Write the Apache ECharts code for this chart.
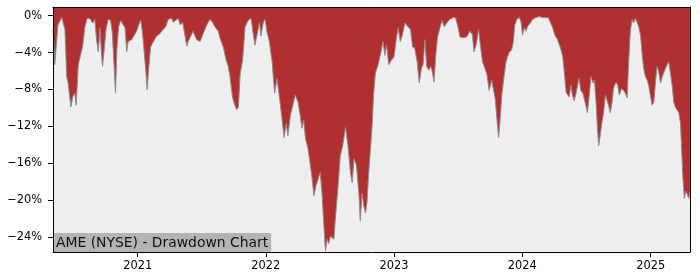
<!DOCTYPE html>
<html><head><meta charset="utf-8">
<script src="https://cdn.jsdelivr.net/npm/echarts@6/dist/echarts.min.js"></script>
<style>html,body{margin:0;padding:0;background:#fff}#c{width:700px;height:280px}</style>
</head><body><div id="c"></div>
<script>
const dates = [
'2020-05-05','2020-05-10','2020-05-19','2020-05-30','2020-06-08','2020-06-13','2020-06-17','2020-06-25','2020-06-30','2020-07-06',
'2020-07-10','2020-07-16','2020-07-21','2020-07-28','2020-08-04','2020-08-10','2020-08-18','2020-08-26','2020-09-01','2020-09-06',
'2020-09-11','2020-09-16','2020-09-20','2020-09-23','2020-09-28','2020-10-03','2020-10-09','2020-10-16','2020-10-21','2020-10-26',
'2020-10-30','2020-11-03','2020-11-08','2020-11-14','2020-11-21','2020-11-26','2020-12-01','2020-12-05','2020-12-10','2020-12-15',
'2020-12-24','2020-12-29','2021-01-06','2021-01-10','2021-01-15','2021-01-20','2021-01-25','2021-01-28','2021-02-02','2021-02-07',
'2021-02-12','2021-02-16','2021-02-24','2021-03-04','2021-03-10','2021-03-15','2021-03-22','2021-03-29','2021-04-03','2021-04-08',
'2021-04-12','2021-04-17','2021-04-27','2021-05-02','2021-05-09','2021-05-16','2021-05-21','2021-05-25','2021-06-04','2021-06-08',
'2021-06-18','2021-06-28','2021-07-07','2021-07-17','2021-07-26','2021-08-02','2021-08-09','2021-08-19','2021-08-24','2021-09-02',
'2021-09-10','2021-09-16','2021-09-21','2021-09-28','2021-10-03','2021-10-10','2021-10-15','2021-10-20','2021-10-27','2021-11-03',
'2021-11-12','2021-11-20','2021-11-26','2021-12-01','2021-12-08','2021-12-14','2021-12-18','2021-12-25','2021-12-30','2022-01-04',
'2022-01-11','2022-01-19','2022-01-26','2022-02-02','2022-02-09','2022-02-16','2022-02-22','2022-02-28','2022-03-05','2022-03-12',
'2022-03-19','2022-03-26','2022-04-03','2022-04-09','2022-04-14','2022-04-19','2022-04-24','2022-05-01','2022-05-08','2022-05-13',
'2022-05-18','2022-05-24','2022-05-30','2022-06-05','2022-06-10','2022-06-15','2022-06-20','2022-06-25','2022-06-29','2022-07-04',
'2022-07-09','2022-07-14','2022-07-18','2022-07-26','2022-08-01','2022-08-08','2022-08-16','2022-08-23','2022-08-30','2022-09-04',
'2022-09-09','2022-09-16','2022-09-23','2022-09-27','2022-10-02','2022-10-07','2022-10-12','2022-10-16','2022-10-21','2022-10-26',
'2022-10-31','2022-11-04','2022-11-09','2022-11-17','2022-11-25','2022-12-01','2022-12-06','2022-12-11','2022-12-17','2022-12-25',
'2023-01-01','2023-01-08','2023-01-13','2023-01-19','2023-01-25','2023-02-01','2023-02-06','2023-02-10','2023-02-17','2023-02-23',
'2023-03-01','2023-03-08','2023-03-14','2023-03-20','2023-03-25','2023-03-30','2023-04-04','2023-04-10','2023-04-16','2023-04-21',
'2023-04-25','2023-04-30','2023-05-05','2023-05-12','2023-05-18','2023-05-24','2023-05-31','2023-06-09','2023-06-19','2023-06-25',
'2023-07-01','2023-07-08','2023-07-17','2023-07-27','2023-08-05','2023-08-12','2023-08-17','2023-08-24','2023-08-30','2023-09-04',
'2023-09-10','2023-09-17','2023-09-23','2023-09-29','2023-10-06','2023-10-11','2023-10-16','2023-10-21','2023-10-26','2023-10-31',
'2023-11-04','2023-11-11','2023-11-16','2023-11-20','2023-11-25','2023-12-02','2023-12-07','2023-12-11','2023-12-17','2023-12-24',
'2023-12-29','2024-01-02','2024-01-07','2024-01-12','2024-01-16','2024-01-24','2024-01-31','2024-02-09','2024-02-19','2024-02-28',
'2024-03-09','2024-03-15','2024-03-21','2024-03-28','2024-04-03','2024-04-11','2024-04-19','2024-04-25','2024-04-30','2024-05-05',
'2024-05-09','2024-05-14','2024-05-19','2024-05-23','2024-05-28','2024-06-02','2024-06-07','2024-06-11','2024-06-16','2024-06-22',
'2024-06-29','2024-07-05','2024-07-11','2024-07-15','2024-07-21','2024-07-25','2024-07-30','2024-08-03','2024-08-06','2024-08-11',
'2024-08-15','2024-08-20','2024-08-25','2024-08-30','2024-09-03','2024-09-08','2024-09-13','2024-09-17','2024-09-24','2024-09-29',
'2024-10-04','2024-10-10','2024-10-16','2024-10-21','2024-10-26','2024-10-30','2024-11-04','2024-11-09','2024-11-13','2024-11-18',
'2024-11-23','2024-11-28','2024-12-03','2024-12-07','2024-12-12','2024-12-17','2024-12-22','2024-12-26','2024-12-31','2025-01-05',
'2025-01-10','2025-01-14','2025-01-19','2025-01-24','2025-01-29','2025-02-03','2025-02-07','2025-02-12','2025-02-17','2025-02-21',
'2025-02-26','2025-03-03','2025-03-08','2025-03-12','2025-03-17','2025-03-22','2025-03-27','2025-03-31','2025-04-03','2025-04-07',
'2025-04-11','2025-04-15','2025-04-19','2025-04-23'
];
const drawdown = [
-1.5,-5.3,-1.0,-0.2,-1.5,-6.6,-7.3,-9.9,-8.8,-8.4,
-9.7,-5.3,-4.5,-3.4,-1.2,-0.3,-0.3,-0.8,-0.4,-2.6,
-3.9,-1.3,-4.1,-5.5,-3.6,-1.5,-0.4,-0.5,-1.9,-5.5,
-8.4,-3.6,-1.2,-0.5,-1.0,-1.3,-3.9,-2.8,-3.0,-2.6,
-2.0,-1.7,-0.8,-0.5,-1.9,-4.1,-6.3,-8.0,-5.5,-3.4,
-3.0,-2.8,-2.2,-2.0,-1.7,-1.5,-1.2,-0.4,-0.5,-0.3,
-0.7,-0.5,-0.3,-1.0,-0.7,-2.2,-3.3,-2.8,-2.0,-1.7,
-2.6,-2.8,-1.9,-1.0,-0.4,-0.7,-1.2,-1.7,-2.5,-3.4,
-4.8,-5.5,-6.6,-8.8,-9.5,-10.2,-9.9,-6.3,-4.8,-1.2,
-0.5,-0.3,-1.9,-3.2,-1.9,-0.7,-2.2,-0.7,-0.4,-1.7,
-2.8,-5.0,-8.4,-6.8,-8.9,-11.1,-13.2,-11.7,-13.0,-10.8,
-9.7,-8.6,-9.4,-10.8,-12.2,-11.3,-13.3,-14.4,-16.2,-17.7,
-19.5,-18.4,-17.7,-17.0,-19.2,-22.5,-25.5,-24.2,-24.7,-23.9,
-23.7,-24.2,-22.0,-18.4,-15.2,-14.1,-12.1,-14.1,-17.0,-18.1,
-15.5,-16.2,-19.2,-22.2,-19.2,-20.6,-21.4,-20.3,-17.0,-14.5,
-11.8,-8.5,-6.2,-5.3,-3.9,-2.8,-4.3,-3.2,-5.3,-4.8,
-4.5,-2.4,-1.3,-2.8,-2.1,-0.8,-0.7,-1.2,-1.5,-3.4,
-3.5,-5.0,-7.3,-5.7,-5.3,-2.6,-5.5,-5.9,-5.5,-6.2,
-7.2,-4.3,-2.3,-1.3,-0.5,-1.2,-0.8,-0.4,-0.2,-0.2,
-1.0,-2.3,-2.4,-2.3,-1.7,-2.0,-3.9,-3.0,-1.5,-3.2,
-5.0,-5.7,-6.4,-8.1,-7.0,-7.0,-8.9,-11.1,-13.2,-10.8,
-8.6,-6.4,-5.0,-4.5,-4.0,-3.7,-2.8,-1.0,-0.4,-0.2,
-0.7,-2.1,-1.3,-1.7,-1.2,-0.8,-0.4,-0.2,-0.1,-0.2,
-0.2,-0.2,-0.7,-1.3,-2.1,-2.6,-3.5,-4.3,-6.1,-8.3,
-8.5,-8.8,-7.5,-8.6,-9.2,-8.5,-7.5,-6.8,-8.1,-8.4,
-9.5,-10.5,-8.3,-6.6,-7.3,-7.0,-9.7,-12.6,-14.1,-12.8,
-11.6,-10.5,-8.6,-8.4,-9.7,-10.5,-9.4,-7.9,-7.2,-7.5,
-8.6,-7.9,-8.1,-8.4,-8.9,-5.3,-1.7,-0.4,-0.8,-0.3,
-0.7,-1.2,-2.1,-3.9,-5.7,-6.6,-7.0,-7.5,-8.6,-9.7,
-9.4,-7.5,-5.5,-6.1,-7.3,-6.6,-6.2,-6.4,-5.3,-5.0,
-6.1,-7.5,-9.4,-9.9,-9.7,-10.5,-11.7,-15.2,-17.7,-19.8,
-19.0,-19.3,-19.8,-19.1
];
const yTicks = [0, -4, -8, -12, -16, -20, -24];
const xTicks = ['2021-01-01', '2022-01-01', '2023-01-01', '2024-01-01', '2025-01-01'];
const titleText = 'AME (NYSE) - Drawdown Chart';

const FONT = 'DejaVu Sans';
const chart = echarts.init(document.getElementById('c'), null, {renderer: 'canvas'});
const toTs = s => Date.UTC(+s.slice(0, 4), +s.slice(5, 7) - 1, +s.slice(8, 10));
const fmtPct = v => (v < 0 ? '\u2212' : '') + Math.abs(v) + '%';
const xMin = toTs(dates[0]), xMax = toTs(dates[dates.length - 1]);

chart.setOption({
  animation: false,
  backgroundColor: '#ffffff',
  title: {
    text: titleText,
    left: 53, bottom: 28,
    padding: [2, 3, 1, 3],
    backgroundColor: '#b4b4b4',
    textStyle: {fontFamily: FONT, fontSize: 13.9, fontWeight: 'normal', color: '#111', lineHeight: 16}
  },
  grid: {left: 53, right: 10, top: 7, bottom: 28, show: true, backgroundColor: '#eeeeee', borderWidth: 0},
  xAxis: [{
    type: 'value', min: xMin, max: xMax, z: 10,
    axisLine: {show: true, onZero: false, lineStyle: {color: '#000', width: 1}},
    axisTick: {show: true, length: 5, lineStyle: {color: '#000'}, customValues: xTicks.map(toTs)},
    axisLabel: {fontFamily: FONT, fontSize: 11.4, color: '#000', margin: 9,
      customValues: xTicks.map(toTs),
      formatter: v => String(new Date(v).getUTCFullYear())},
    splitLine: {show: false}
  }, {
    type: 'value', position: 'top', min: xMin, max: xMax, z: 10,
    axisLine: {show: true, onZero: false, lineStyle: {color: '#000', width: 1}},
    axisTick: {show: false}, axisLabel: {show: false}, splitLine: {show: false}
  }],
  yAxis: [{
    type: 'value', min: -25.6, max: 0.94, z: 10,
    axisLine: {show: true, onZero: false, lineStyle: {color: '#000', width: 1}},
    axisTick: {show: true, length: 5, lineStyle: {color: '#000'}, customValues: yTicks},
    axisLabel: {fontFamily: FONT, fontSize: 11.4, color: '#000', margin: 11,
      customValues: yTicks, formatter: fmtPct},
    splitLine: {show: false}
  }, {
    type: 'value', position: 'right', min: -25.6, max: 0.94, z: 10,
    axisLine: {show: true, onZero: false, lineStyle: {color: '#000', width: 1}},
    axisTick: {show: false}, axisLabel: {show: false}, splitLine: {show: false}
  }],
  series: [{
    type: 'line',
    data: dates.map((d, i) => [toTs(d), drawdown[i]]),
    showSymbol: false,
    lineStyle: {color: '#8c8c8c', width: 1},
    areaStyle: {color: '#b03030', opacity: 1, origin: 'end'},
    clip: true
  }]
});
</script>
</body></html>
